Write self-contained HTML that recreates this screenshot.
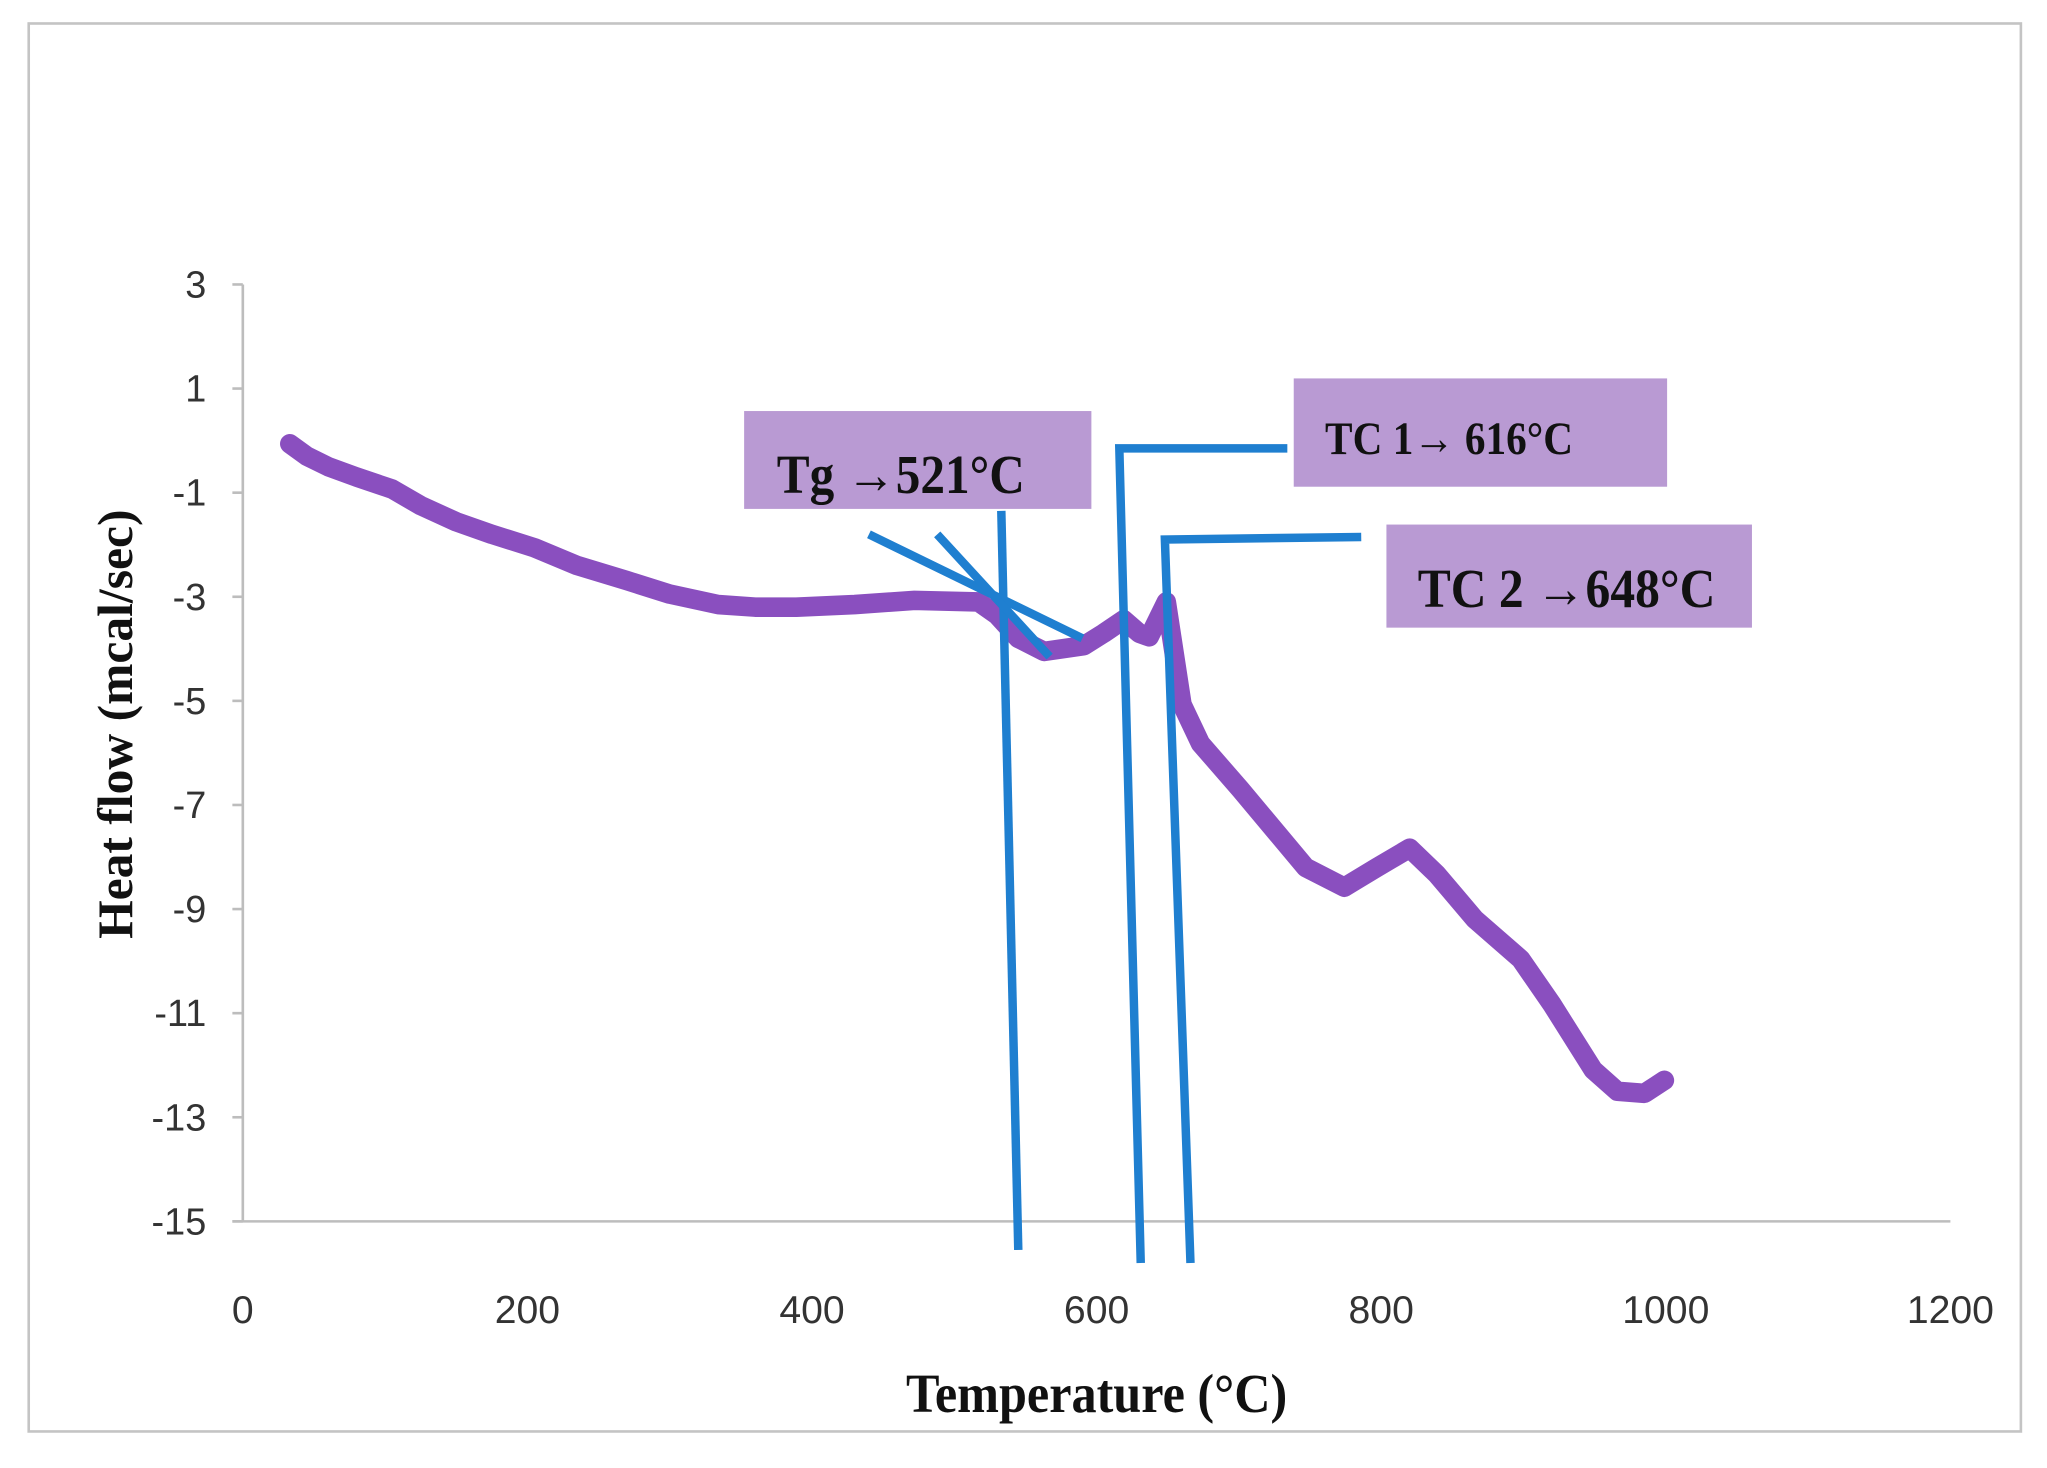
<!DOCTYPE html>
<html><head><meta charset="utf-8"><style>
html,body{margin:0;padding:0;background:#fff;}
svg{display:block;}
</style></head><body>
<svg id="chart" width="2047" height="1468" viewBox="0 0 1568 1125" preserveAspectRatio="none" xmlns="http://www.w3.org/2000/svg">
<rect x="22" y="18" width="1526" height="1079" fill="#fff" stroke="#c4c4c4" stroke-width="2"/>
<g id="axes"></g>
<g id="series"></g>
<g id="annot"></g>
<text transform="translate(101,555) rotate(-90)" text-anchor="middle" font-family="Liberation Serif, serif" font-weight="bold" font-size="38" fill="#111">Heat flow (mcal/sec)</text>
<text x="840" y="1082" text-anchor="middle" font-family="Liberation Serif, serif" font-weight="bold" font-size="42" textLength="292" lengthAdjust="spacingAndGlyphs" fill="#111">Temperature (°C)</text>
</svg>
<script>
const temps=[33,45,60,80,105,125,150,175,205,235,270,300,334,360,389,430,472,517,530,545,563,591,605,619,630,637,649,660,673,701,747,774,797,820,839,866,898,920,949,966,985,999];
const heatFlow=[-0.06,-0.3,-0.5,-0.7,-0.93,-1.25,-1.56,-1.8,-2.06,-2.4,-2.69,-2.95,-3.15,-3.2,-3.2,-3.15,-3.07,-3.1,-3.35,-3.8,-4.05,-3.94,-3.7,-3.44,-3.7,-3.77,-3.1,-5.07,-5.82,-6.7,-8.2,-8.58,-8.2,-7.83,-8.33,-9.2,-9.96,-10.83,-12.09,-12.5,-12.54,-12.29];
const xTicks=[0,200,400,600,800,1000,1200];
const yTicks=[3,1,-1,-3,-5,-7,-9,-11,-13,-15];
const ns='http://www.w3.org/2000/svg';
const X0=186,X1=1494,Y0=218,Y1=936;
function sx(v){return X0+(v-0)/(1200-0)*(X1-X0);}
function sy(v){return Y0+(3-v)/(3-(-15))*(Y1-Y0);}
function mk(tag,attrs,parent){const e=document.createElementNS(ns,tag);for(const k in attrs)e.setAttribute(k,attrs[k]);parent.appendChild(e);return e;}
const axes=document.getElementById('axes');
const ya=mk('line',{x1:X0,y1:sy(3),x2:X0,y2:sy(-15),stroke:'#bdbdbd','stroke-width':2},axes);


const xa=mk('line',{x1:178,y1:sy(-15),x2:X1,y2:sy(-15),stroke:'#bdbdbd','stroke-width':2},axes);


yTicks.forEach(v=>{
  const t=mk('line',{x1:178,y1:sy(v),x2:X0,y2:sy(v),stroke:'#bdbdbd','stroke-width':2},axes);
  
  
  const l=mk('text',{x:158,y:sy(v)+10,'text-anchor':'end','font-family':'Liberation Sans Narrow, Liberation Sans, sans-serif','font-size':29,fill:'#333'},axes);
  
  
  l.textContent=v;
});
xTicks.forEach(v=>{
  const l=mk('text',{x:sx(v),y:1014,'text-anchor':'middle','font-family':'Liberation Sans Narrow, Liberation Sans, sans-serif','font-size':30,fill:'#333'},axes);
  
  
  l.textContent=v;
});
const series=document.getElementById('series');
let d='';temps.forEach((t,i)=>{d+=(i?'L':'M')+sx(t).toFixed(1)+' '+sy(heatFlow[i]).toFixed(1);});
const p=mk('path',{d:d,fill:'none',stroke:'#8a4fbf','stroke-width':15,'stroke-linejoin':'round','stroke-linecap':'round'},series);


const an=document.getElementById('annot');
const boxes=[
 {name:'tg-label-box',x:570,y:315,w:266,h:75,tx:595,ty:378,fs:42,tl:190,txt:'Tg →521°C'},
 {name:'tc1-label-box',x:991,y:290,w:286,h:83,tx:1015,ty:348,fs:36,tl:190,txt:'TC 1→ 616°C'},
 {name:'tc2-label-box',x:1062,y:402,w:280,h:79,tx:1086,ty:465,fs:42,tl:228,txt:'TC 2 →648°C'}];
boxes.forEach(b=>{
  const r=mk('rect',{x:b.x,y:b.y,width:b.w,height:b.h,fill:'#b99ad3'},an);
  
  
  const t=mk('text',{x:b.tx,y:b.ty,'font-family':'Liberation Serif, serif','font-weight':'bold','font-size':b.fs,textLength:b.tl,lengthAdjust:'spacingAndGlyphs',fill:'#111'},an);
  
  
  t.textContent=b.txt;
});
const lines=[
 ['tg-vertical-line',[[533,-1.35],[545,-15.55]]],
 ['tg-tangent-1',[[440,-1.8],[590,-3.8]]],
 ['tg-tangent-2',[[488,-1.8],[567,-4.15]]],
 ['tc1-marker-line',[[734,-0.15],[616,-0.15],[631,-15.8]]],
 ['tc2-marker-line',[[786,-1.85],[648,-1.9],[666,-15.8]]]];
lines.forEach(l=>{
  const dd=l[1].map((q,i)=>(i?'L':'M')+sx(q[0]).toFixed(1)+' '+sy(q[1]).toFixed(1)).join('');
  const e=mk('path',{d:dd,fill:'none',stroke:'#1f7fd0','stroke-width':6.5},an);
  
  
});
</script>
</body></html>
